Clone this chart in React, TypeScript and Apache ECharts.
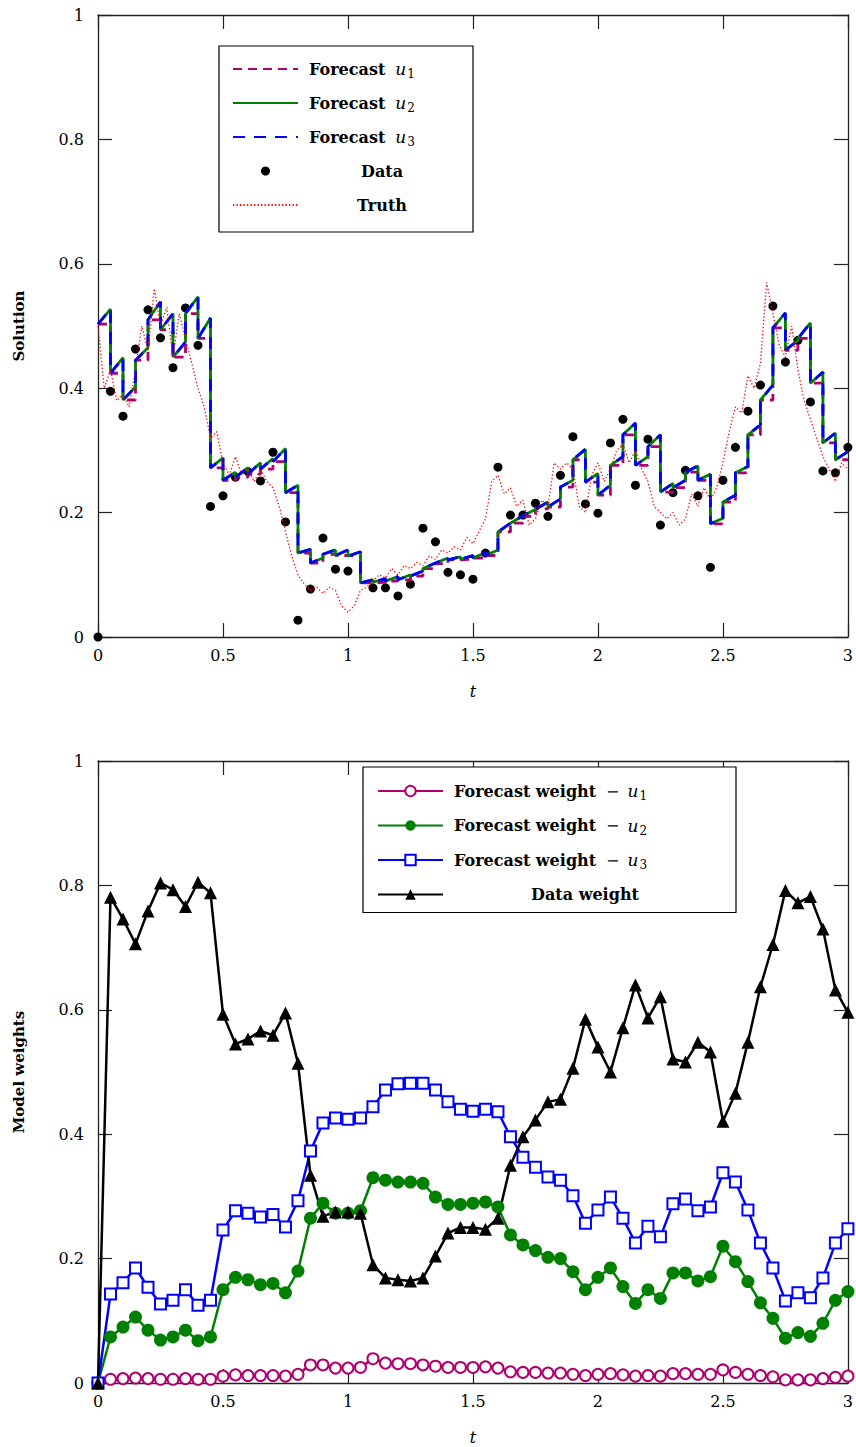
import React, { useEffect, useRef } from 'react';
import * as echarts from 'echarts';

// ---------- data ----------
const T = [0, 0.05, 0.1, 0.15, 0.2, 0.25, 0.3, 0.35, 0.4, 0.45, 0.5, 0.55, 0.6, 0.65, 0.7, 0.75, 0.8, 0.85, 0.9, 0.95, 1, 1.05, 1.1, 1.15, 1.2, 1.25, 1.3, 1.35, 1.4, 1.45, 1.5, 1.55, 1.6, 1.65, 1.7, 1.75, 1.8, 1.85, 1.9, 1.95, 2, 2.05, 2.1, 2.15, 2.2, 2.25, 2.3, 2.35, 2.4, 2.45, 2.5, 2.55, 2.6, 2.65, 2.7, 2.75, 2.8, 2.85, 2.9, 2.95, 3];

const OBS = [0, 0.395, 0.355, 0.463, 0.526, 0.481, 0.433, 0.529, 0.469, 0.21, 0.227, 0.257, 0.266, 0.251, 0.297, 0.185, 0.027, 0.077, 0.159, 0.109, 0.106, null, 0.079, 0.079, 0.066, 0.085, 0.175, 0.153, 0.104, 0.1, 0.093, 0.135, 0.273, 0.196, 0.196, 0.215, 0.194, 0.26, 0.322, 0.214, 0.199, 0.312, 0.35, 0.244, 0.318, 0.18, 0.232, 0.268, 0.227, 0.112, 0.252, 0.305, 0.363, 0.405, 0.532, 0.442, 0.477, 0.378, 0.267, 0.264, 0.305];

// analysis value at the start of each 0.05 window
const ANALYSIS = [0.503, 0.424, 0.381, 0.445, 0.510, 0.494, 0.450, 0.520, 0.480, 0.272,
  0.252, 0.257, 0.262, 0.270, 0.282, 0.232, 0.135, 0.119, 0.133, 0.131,
  0.130, 0.087, 0.088, 0.090, 0.092, 0.098, 0.110, 0.118, 0.124, 0.125,
  0.127, 0.131, 0.169, 0.183, 0.194, 0.206, 0.209, 0.241, 0.285, 0.249,
  0.228, 0.276, 0.325, 0.276, 0.306, 0.233, 0.240, 0.265, 0.252, 0.182,
  0.217, 0.264, 0.325, 0.381, 0.497, 0.461, 0.480, 0.408, 0.312, 0.285];

// forecast value at the end of each window (models u2 and u3)
const FC_END_U2 = [0.527, 0.449, 0.402, 0.465, 0.539, 0.520, 0.474, 0.547, 0.513, 0.288,
  0.265, 0.272, 0.280, 0.287, 0.303, 0.244, 0.141, 0.127, 0.140, 0.140,
  0.137, 0.092, 0.094, 0.097, 0.100, 0.106, 0.119, 0.127, 0.129, 0.131,
  0.136, 0.140, 0.183, 0.195, 0.205, 0.217, 0.222, 0.252, 0.302, 0.263,
  0.244, 0.290, 0.344, 0.290, 0.325, 0.247, 0.252, 0.275, 0.262, 0.191,
  0.228, 0.274, 0.341, 0.405, 0.521, 0.477, 0.505, 0.426, 0.328, 0.298];
const FC_END_U3 = [0.527, 0.449, 0.402, 0.465, 0.539, 0.520, 0.474, 0.547, 0.513, 0.288,
  0.265, 0.272, 0.280, 0.287, 0.303, 0.244, 0.141, 0.127, 0.140, 0.140,
  0.137, 0.092, 0.094, 0.097, 0.100, 0.106, 0.119, 0.127, 0.129, 0.131,
  0.136, 0.140, 0.183, 0.195, 0.205, 0.217, 0.222, 0.252, 0.302, 0.263,
  0.244, 0.290, 0.344, 0.290, 0.325, 0.247, 0.252, 0.275, 0.262, 0.191,
  0.228, 0.274, 0.341, 0.405, 0.521, 0.477, 0.505, 0.426, 0.328, 0.298];

// truth sampled every 0.025
const TRUTH_STEP = 0.025;
const TRUTH = [0.50, 0.40, 0.43, 0.38, 0.39, 0.37, 0.43, 0.50, 0.46, 0.56,
  0.50, 0.53, 0.45, 0.52, 0.48, 0.44, 0.40, 0.37, 0.32, 0.33,
  0.28, 0.26, 0.29, 0.26, 0.27, 0.25, 0.27, 0.25, 0.24, 0.21,
  0.17, 0.13, 0.10, 0.085, 0.075, 0.08, 0.07, 0.08, 0.075, 0.05,
  0.04, 0.05, 0.075, 0.08, 0.09, 0.10, 0.095, 0.11, 0.10, 0.115,
  0.11, 0.12, 0.115, 0.13, 0.125, 0.14, 0.135, 0.145, 0.14, 0.16,
  0.15, 0.17, 0.19, 0.25, 0.26, 0.23, 0.24, 0.21, 0.22, 0.18,
  0.19, 0.22, 0.21, 0.28, 0.27, 0.28, 0.27, 0.21, 0.20, 0.26,
  0.28, 0.25, 0.27, 0.30, 0.31, 0.28, 0.30, 0.27, 0.25, 0.21,
  0.20, 0.19, 0.20, 0.18, 0.19, 0.23, 0.21, 0.24, 0.22, 0.24,
  0.28, 0.33, 0.37, 0.36, 0.42, 0.40, 0.44, 0.57, 0.52, 0.47,
  0.45, 0.50, 0.43, 0.38, 0.35, 0.32, 0.29, 0.27, 0.25, 0.28,
  0.27];

const W_U1 = [0, 0.006, 0.007, 0.008, 0.007, 0.006, 0.006, 0.007, 0.006, 0.006, 0.011, 0.013, 0.012, 0.012, 0.012, 0.011, 0.014, 0.029, 0.029, 0.024, 0.024, 0.025, 0.039, 0.032, 0.031, 0.031, 0.029, 0.027, 0.025, 0.025, 0.025, 0.026, 0.024, 0.018, 0.017, 0.017, 0.016, 0.016, 0.014, 0.012, 0.014, 0.015, 0.013, 0.011, 0.012, 0.011, 0.015, 0.015, 0.014, 0.014, 0.021, 0.017, 0.014, 0.012, 0.01, 0.005, 0.005, 0.005, 0.007, 0.009, 0.011];
const W_U2 = [0, 0.074, 0.09, 0.106, 0.085, 0.069, 0.074, 0.085, 0.068, 0.074, 0.15, 0.17, 0.166, 0.158, 0.16, 0.145, 0.18, 0.265, 0.289, 0.273, 0.273, 0.277, 0.33, 0.326, 0.323, 0.323, 0.321, 0.299, 0.287, 0.287, 0.289, 0.291, 0.283, 0.238, 0.222, 0.213, 0.202, 0.2, 0.179, 0.15, 0.17, 0.185, 0.155, 0.128, 0.15, 0.136, 0.177, 0.177, 0.164, 0.171, 0.22, 0.195, 0.163, 0.129, 0.104, 0.072, 0.081, 0.075, 0.096, 0.133, 0.147];
const W_U3 = [0, 0.143, 0.161, 0.185, 0.154, 0.127, 0.133, 0.15, 0.125, 0.133, 0.246, 0.277, 0.273, 0.267, 0.271, 0.251, 0.293, 0.373, 0.418, 0.426, 0.424, 0.426, 0.444, 0.471, 0.481, 0.482, 0.482, 0.471, 0.452, 0.44, 0.437, 0.44, 0.436, 0.396, 0.363, 0.347, 0.331, 0.326, 0.301, 0.257, 0.278, 0.299, 0.265, 0.225, 0.252, 0.235, 0.288, 0.296, 0.277, 0.283, 0.338, 0.323, 0.278, 0.225, 0.185, 0.132, 0.145, 0.137, 0.169, 0.225, 0.248];
const W_DATA = [0, 0.781, 0.746, 0.706, 0.759, 0.804, 0.793, 0.766, 0.805, 0.788, 0.593, 0.545, 0.553, 0.566, 0.559, 0.595, 0.514, 0.334, 0.268, 0.275, 0.275, 0.273, 0.19, 0.169, 0.166, 0.164, 0.169, 0.204, 0.241, 0.25, 0.25, 0.247, 0.265, 0.35, 0.396, 0.423, 0.452, 0.456, 0.506, 0.585, 0.54, 0.5, 0.571, 0.64, 0.587, 0.621, 0.521, 0.516, 0.548, 0.532, 0.421, 0.466, 0.548, 0.637, 0.705, 0.792, 0.772, 0.782, 0.73, 0.632, 0.596];

// ---------- styling ----------
const SERIF = '"DejaVu Serif", "Liberation Serif", serif';
const PURPLE = '#b0006e';
const GREEN = '#008000';
const BLUE = '#0000ff';
const RED = '#ff0000';
const AX = '#222';

// ---------- derived ----------
const u1Path: number[][] = [];
const u2Path: number[][] = [];
const u3Path: number[][] = [];
for (let k = 0; k < ANALYSIS.length; k++) {
  u1Path.push([T[k], ANALYSIS[k]], [T[k + 1], ANALYSIS[k]]);
  u2Path.push([T[k], ANALYSIS[k]], [T[k + 1], FC_END_U2[k]]);
  u3Path.push([T[k], ANALYSIS[k]], [T[k + 1], FC_END_U3[k]]);
}
const obsPts = T.map((t, i) => [t, OBS[i]]).filter((p) => p[1] !== null);
const truthPts = TRUTH.map((v, i) => [i * TRUTH_STEP, v]);
const pairs = (arr: number[]) => T.map((t, i) => [t, arr[i]]);

const fmt = (v: number) => String(Math.round(v * 10) / 10);

function xAx(gridIndex: number, pos: 'bottom' | 'top', labels: boolean) {
  return {
    type: 'value', gridIndex, position: pos, min: 0, max: 3, interval: 0.5,
    name: labels ? 't' : '', nameLocation: 'middle', nameGap: 46,
    nameTextStyle: { fontFamily: SERIF, fontStyle: 'italic', fontSize: 16, color: '#000' },
    axisLine: { show: true, onZero: false, lineStyle: { color: AX, width: 1.3 } },
    axisTick: { show: true, inside: true, length: 14, lineStyle: { color: AX, width: 1.2 } },
    axisLabel: { show: labels, margin: 10, fontFamily: SERIF, fontSize: 16, color: '#000', formatter: fmt },
    splitLine: { show: false },
  };
}
function yAx(gridIndex: number, pos: 'left' | 'right', name: string) {
  const labels = pos === 'left';
  return {
    type: 'value', gridIndex, position: pos, min: 0, max: 1, interval: 0.2,
    name: labels ? name : '', nameLocation: 'middle', nameGap: 72,
    nameTextStyle: { fontFamily: SERIF, fontWeight: 'bold', fontSize: 15, color: '#000' },
    axisLine: { show: true, onZero: false, lineStyle: { color: AX, width: 1.3 } },
    axisTick: { show: true, inside: true, length: 14, lineStyle: { color: AX, width: 1.2 } },
    axisLabel: { show: labels, margin: 14, fontFamily: SERIF, fontSize: 16, color: '#000', formatter: fmt },
    splitLine: { show: false },
  };
}

const LH = 22;
const richCommon = {
  b: { fontFamily: SERIF, fontWeight: 'bold', fontSize: 16, lineHeight: LH, color: '#000', padding: [0, 0, 0, 6] },
  m: { fontFamily: SERIF, fontStyle: 'italic', fontSize: 17, lineHeight: LH, color: '#000' },
  s: { fontFamily: SERIF, fontSize: 12, lineHeight: LH, color: '#000', verticalAlign: 'bottom' },
  d: { fontFamily: SERIF, fontSize: 16, lineHeight: LH, color: '#000', padding: [0, 8, 0, 10] },
};

const TOP_NAMES = ['Forecast u1', 'Forecast u2', 'Forecast u3', 'Data', 'Truth'];
const BOT_NAMES = ['Forecast weight − u1', 'Forecast weight − u2', 'Forecast weight − u3', 'Data weight'];

const option = {
  animation: false,
  backgroundColor: '#fff',
  grid: [
    { left: 98, right: 7, top: 15, height: 622 },
    { left: 98, right: 7, top: 761, height: 622 },
  ],
  xAxis: [xAx(0, 'bottom', true), xAx(0, 'top', false), xAx(1, 'bottom', true), xAx(1, 'top', false)],
  yAxis: [yAx(0, 'left', 'Solution'), yAx(0, 'right', ''), yAx(1, 'left', 'Model weights'), yAx(1, 'right', '')],
  legend: [
    {
      data: TOP_NAMES, orient: 'vertical', left: 219, top: 46,
      padding: [12, 18, 16, 13], itemGap: 12, itemWidth: 65, itemHeight: 9,
      borderColor: '#000', borderWidth: 1.2, backgroundColor: '#fff', selectedMode: false,
      formatter: (name: string) => {
        if (name === 'Data' || name === 'Truth') return `{c|${name}}`;
        return `{b|Forecast}{m|u}{s|${name.slice(-1)}}`;
      },
      textStyle: {
        lineHeight: LH,
        rich: {
          ...richCommon,
          m: { ...richCommon.m, padding: [0, 1, 0, 10] },
          c: { fontFamily: SERIF, fontWeight: 'bold', fontSize: 16, lineHeight: LH, color: '#000', width: 146, align: 'center', padding: [0, 0, 0, 6] },
        },
      },
    },
    {
      data: BOT_NAMES, orient: 'vertical', left: 363, top: 767,
      padding: [13, 20, 7, 14], itemGap: 12.5, itemWidth: 65, itemHeight: 13,
      borderColor: '#000', borderWidth: 1.2, backgroundColor: '#fff', selectedMode: false,
      formatter: (name: string) => {
        if (name === 'Data weight') return `{c|${name}}`;
        return `{b|Forecast weight}{d|−}{m|u}{s|${name.slice(-1)}}`;
      },
      textStyle: {
        lineHeight: LH,
        rich: {
          ...richCommon,
          m: { ...richCommon.m, padding: [0, 1, 0, 0] },
          c: { fontFamily: SERIF, fontWeight: 'bold', fontSize: 16, lineHeight: LH, color: '#000', width: 262, align: 'center', padding: [0, 0, 0, 6] },
        },
      },
    },
  ],
  series: [
    {
      name: 'Forecast u1', type: 'line', xAxisIndex: 0, yAxisIndex: 0, data: u1Path,
      symbol: 'none', itemStyle: { color: PURPLE, opacity: 0 },
      lineStyle: { color: PURPLE, width: 2.8, type: [9, 6] },
    },
    {
      name: 'Forecast u2', type: 'line', xAxisIndex: 0, yAxisIndex: 0, data: u2Path,
      symbol: 'none', itemStyle: { color: GREEN, opacity: 0 },
      lineStyle: { color: GREEN, width: 2.8, type: 'solid' },
    },
    {
      name: 'Forecast u3', type: 'line', xAxisIndex: 0, yAxisIndex: 0, data: u3Path,
      symbol: 'none', itemStyle: { color: BLUE, opacity: 0 },
      lineStyle: { color: BLUE, width: 2.8, type: [12, 9] },
    },
    {
      name: 'Data', type: 'scatter', xAxisIndex: 0, yAxisIndex: 0, data: obsPts,
      symbol: 'circle', symbolSize: 9, itemStyle: { color: '#000', opacity: 1 },
    },
    {
      name: 'Truth', type: 'line', xAxisIndex: 0, yAxisIndex: 0, data: truthPts,
      symbol: 'none', itemStyle: { color: RED, opacity: 0 },
      lineStyle: { color: RED, width: 1.3, type: [1.3, 2.2] },
    },
    {
      name: BOT_NAMES[0], type: 'line', xAxisIndex: 2, yAxisIndex: 2, data: pairs(W_U1),
      symbol: 'emptyCircle', symbolSize: 11, showSymbol: true,
      itemStyle: { color: PURPLE, borderWidth: 2.2 },
      lineStyle: { color: PURPLE, width: 2.5 },
    },
    {
      name: BOT_NAMES[1], type: 'line', xAxisIndex: 2, yAxisIndex: 2, data: pairs(W_U2),
      symbol: 'circle', symbolSize: 13, showSymbol: true,
      itemStyle: { color: GREEN },
      lineStyle: { color: GREEN, width: 2.5 },
    },
    {
      name: BOT_NAMES[2], type: 'line', xAxisIndex: 2, yAxisIndex: 2, data: pairs(W_U3),
      symbol: 'emptyRect', symbolSize: 11, showSymbol: true,
      itemStyle: { color: BLUE, borderWidth: 2.4 },
      lineStyle: { color: BLUE, width: 2.5 },
    },
    {
      name: BOT_NAMES[3], type: 'line', xAxisIndex: 2, yAxisIndex: 2, data: pairs(W_DATA),
      symbol: 'triangle', symbolSize: 13, showSymbol: true,
      itemStyle: { color: '#000' },
      lineStyle: { color: '#000', width: 2.5 },
    },
  ],
};

export default function App() {
  const ref = useRef<HTMLDivElement>(null);
  useEffect(() => {
    document.body.style.margin = '0';
    const chart = echarts.init(ref.current as HTMLDivElement, null, { renderer: 'svg' });
    chart.setOption(option as any);
    return () => chart.dispose();
  }, []);
  return <div ref={ref} style={{ width: 856, height: 1447 }} />;
}
